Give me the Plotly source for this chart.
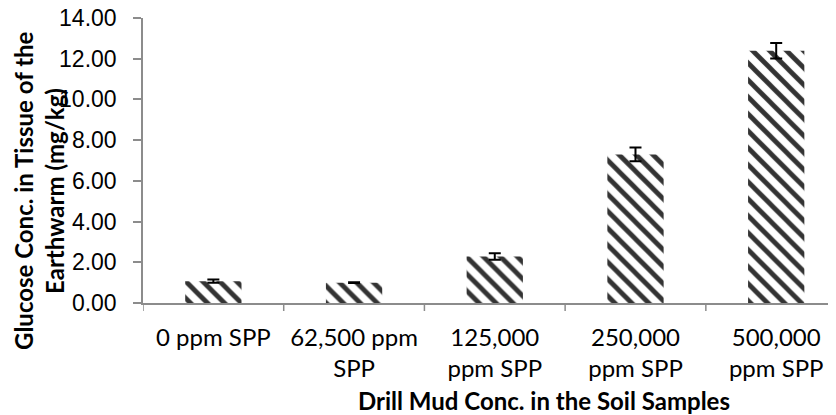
import plotly.graph_objects as go

categories = ["0 ppm SPP", "62,500 ppm<br>SPP", "125,000<br>ppm SPP", "250,000<br>ppm SPP", "500,000<br>ppm SPP"]
glucose = [1.07, 1.00, 2.29, 7.30, 12.39]
errors = [0.08, 0.02, 0.16, 0.34, 0.38]
y_ticks = [0, 2, 4, 6, 8, 10, 12, 14]

W, H = 836, 415
OFF = 8  # page body margin: figure is drawn 8 px right and down
# reference pixel geometry of the plotting area
REF_L, REF_R, REF_T, REF_B = 143, 836, 18, 303
L = REF_L - OFF
T = REF_T - OFF
R = W - (REF_R - OFF)
B = H - (REF_B - OFF)

fig = go.Figure()
fig.add_trace(go.Bar(
    x=list(range(len(categories))),
    y=glucose,
    width=0.4,
    marker=dict(
        color="white",
        line=dict(width=0),
        pattern=dict(shape="\\", fgcolor="#333333", bgcolor="white",
                     fgopacity=1, size=12, solidity=0.4, fillmode="replace"),
    ),
    error_y=dict(type="data", array=errors, visible=True,
                 color="black", thickness=2, width=6),
))

fig.update_layout(
    width=W, height=H,
    margin=dict(l=L, r=R, t=T, b=B, autoexpand=False),
    paper_bgcolor="white", plot_bgcolor="white",
    showlegend=False,
)
fig.update_xaxes(
    type="linear",
    range=[-0.5, 4.425],
    tickmode="array",
    tickvals=list(range(len(categories))),
    ticktext=categories,
    showgrid=False, zeroline=False,
    showline=True, linecolor="#8c8c8c", linewidth=1.5,
    ticks="",
    tickfont=dict(family="Lato", size=24, color="black"),
    ticklabelstandoff=12,
    ticklabeloverflow="allow",
    automargin=False,
)
fig.update_yaxes(
    range=[0, 14],
    tickmode="array",
    tickvals=y_ticks,
    ticktext=[f"{v:.2f}" for v in y_ticks],
    showgrid=False, zeroline=False,
    showline=True, linecolor="#8c8c8c", linewidth=1.5,
    ticks="outside", ticklen=8, tickcolor="#8c8c8c", tickwidth=1.5,
    tickfont=dict(family="Liberation Sans", size=23, color="black"),
    ticklabelstandoff=12,
    ticklabeloverflow="allow",
    automargin=False,
)

plot_w = W - L - R
plot_h = H - T - B

# boundary ticks on x axis (category separators)
for b in [-0.5, 0.5, 1.5, 2.5, 3.5]:
    fig.add_shape(type="line", xref="x", yref="paper", x0=b, x1=b,
                  y0=0, y1=-8 / plot_h,
                  line=dict(color="#8c8c8c", width=1.5))

def px_x(p):
    return (p - OFF - L) / plot_w

def px_y(p):
    return (H - B - (p - OFF)) / plot_h

fig.add_annotation(text="<b>Glucose Conc. in Tissue of the</b>", textangle=-90,
                   xref="paper", yref="paper", x=px_x(23), y=px_y(191),
                   xanchor="center", yanchor="middle", showarrow=False,
                   font=dict(family="Lato", size=24, color="black"))
fig.add_annotation(text="<b>Earthwarm (mg/kg)</b>", textangle=-90,
                   xref="paper", yref="paper", x=px_x(54), y=px_y(191),
                   xanchor="center", yanchor="middle", showarrow=False,
                   font=dict(family="Lato", size=24, color="black"))
fig.add_annotation(text="<b>Drill Mud Conc. in the Soil Samples</b>",
                   xref="paper", yref="paper", x=px_x(544), y=px_y(400),
                   xanchor="center", yanchor="middle", showarrow=False,
                   font=dict(family="Lato", size=24, color="black"))

fig.write_html("out.html")
